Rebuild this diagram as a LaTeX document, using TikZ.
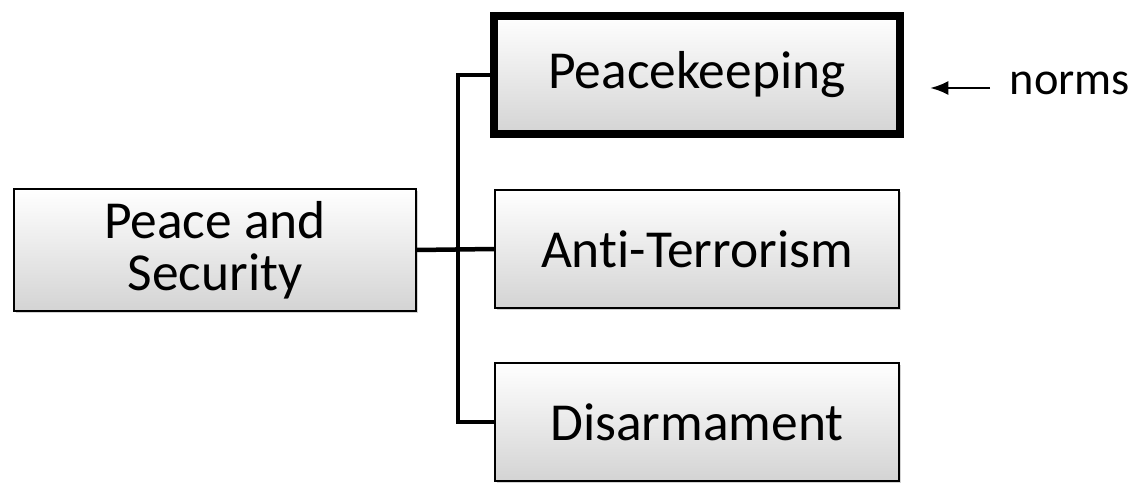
\documentclass[tikz,border=0pt]{standalone}
\usepackage{fontspec}
\setmainfont[Ligatures=NoCommon]{Carlito}
\usetikzlibrary{arrows.meta, shadows, positioning}

\tikzset{
	topicbox/.style={draw=black, line width=1.4pt, top color=white, bottom color=black!17,
		drop shadow={opacity=0.35, shadow xshift=1.5pt, shadow yshift=-1.5pt},
		align=center, inner sep=0pt, font=\fontsize{38}{37}\selectfont},
	branch/.style={line width=3.2pt},
}

\begin{document}
\begin{tikzpicture}[x=0.025cm, y=-0.025cm]
	\useasboundingbox (0,0) rectangle (1138,484);
	
	\node[topicbox, minimum width=10.05cm, minimum height=3.05cm] (root) at (215,250) {Peace and\\Security};
	\node[topicbox, line width=5.5pt, minimum width=10.15cm, minimum height=2.95cm] (keep) at (697,75) {Peacekeeping};
	\node[topicbox, minimum width=10.08cm, minimum height=2.95cm] (anti) at (697,249) {Anti-Terrorism};
	\node[topicbox, minimum width=10.08cm, minimum height=2.95cm] (disarm) at (697,422) {Disarmament};
	
	\coordinate (fork) at (458,250);
	\draw[branch] (root.east) -- (anti.west);
	\draw[branch] (fork) |- (keep.west);
	\draw[branch] (fork) |- (disarm.west);
	
	\node[font=\fontsize{33}{33}\selectfont, inner sep=0pt] (norms) at (1070,83) {norms};
	\coordinate (tip) at (930,88);
	\draw[line width=2pt, -{Latex[length=13pt, width=10pt]}] (990,88) -- (tip);
\end{tikzpicture}
\end{document}
